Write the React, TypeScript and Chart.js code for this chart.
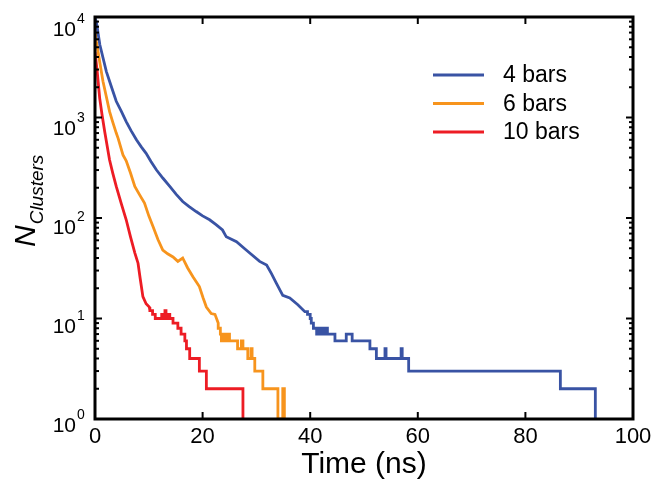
import { useEffect, useRef } from 'react';
import { Chart, registerables } from 'chart.js';

Chart.register(...registerables);

const SERIES_LABELS = ['4 bars', '6 bars', '10 bars'];
const SERIES_COLORS = ['#3953a4', '#f7941d', '#ed1c24'];

// 4 bars: smooth decay part, then integer step tail
const blueHeadT = [0, 0.25, 0.9, 2.1, 3.0, 3.95, 4.9, 5.8, 6.7, 7.7, 8.6, 9.5, 10.4, 11.4, 12.6, 13.9, 15.1, 16.3, 17.5, 18.8, 20.0, 21.3, 22.5, 23.7, 24.4, 26.3, 28.1, 30.6, 31.9, 32.8, 33.7, 34.9, 36.2, 37.7, 39.0];
const blueHeadN = [9800, 9000, 5300, 2880, 2060, 1450, 1150, 910, 740, 600, 510, 440, 365, 302, 250, 206, 172, 146, 130, 116, 105, 96, 86, 76, 65, 58, 48, 37, 34, 28, 22.5, 17, 16, 13.7, 11.7];
const blueTailT = [39.5, 40.0, 40.2, 40.6, 41.2, 41.7, 42.2, 42.7, 43.2, 44.6, 46.7, 47.8, 51.1, 52.3, 53.9, 54.1, 56.9, 57.1, 58.3, 86.5, 93.0];
const blueTailN = [11, 10, 9, 8, 7, 8, 7, 8, 7, 6, 7, 6, 5, 4, 5, 4, 5, 4, 3, 2, 1];

// 6 bars
const orangeHeadT = [0, 0.25, 0.9, 1.48, 2.1, 2.7, 3.3, 3.95, 4.3, 5.2, 5.8, 6.6, 7.4, 8.3, 9.2, 10.0, 10.8, 11.7, 12.6, 13.5, 14.5, 15.4, 16.3, 17.2, 18.2, 19.4, 20.1, 20.7, 21.6, 22.3, 22.9];
const orangeHeadN = [7500, 5750, 3500, 2290, 1620, 1150, 900, 700, 620, 425, 370, 280, 206, 170, 141, 105, 82, 61, 48, 44, 41, 37, 40, 32, 26, 20.8, 16, 13, 11.2, 11, 9];
const orangeTailT = [22.9, 23.3, 23.5, 24.0, 24.3, 24.7, 25.0, 26.5, 27.2, 27.5, 28.4, 29.0, 29.2, 29.7, 31.2, 34.0, 34.9, 35.2];
const orangeTailN = [8, 7, 6, 7, 6, 7, 6, 5, 6, 5, 4, 5, 4, 3, 2, 1, 2, 1];

// 10 bars
const redHeadT = [0, 0.4, 0.87, 1.3, 1.8, 2.7, 3.3, 3.95, 4.9, 5.8, 6.6, 7.4, 8.0, 8.4, 8.9, 9.5, 10.1, 10.2];
const redHeadN = [4500, 2900, 1560, 1070, 725, 380, 280, 206, 138, 96, 65, 45, 35.5, 25, 16.5, 14, 13, 12];
const redTailT = [10.7, 11.2, 12.4, 12.7, 13.0, 13.2, 13.6, 13.9, 14.5, 15.4, 16.0, 16.7, 17.0, 17.6, 19.4, 20.7, 27.5];
const redTailN = [11, 10, 11, 10, 12, 10, 11, 10, 9, 8, 7, 6, 5, 4, 3, 2, 1];

const X_TICKS = [0, 20, 40, 60, 80, 100];
const Y_EXPONENTS = [0, 1, 2, 3, 4];

const FONT = '"Liberation Sans", Arial, Helvetica, sans-serif';

function buildPoints(headT: number[], headN: number[], tailT: number[], tailN: number[]) {
  const pts = headT.map((t, i) => ({ x: t, y: headN[i] }));
  let prev = headN[headN.length - 1];
  tailT.forEach((t, i) => {
    pts.push({ x: t, y: prev });
    pts.push({ x: t, y: tailN[i] });
    prev = tailN[i];
  });
  return pts;
}

const axesPlugin = {
  id: 'customAxes',
  afterDraw(chart: any) {
    const { ctx, chartArea, scales } = chart;
    const { left, right, top, bottom } = chartArea;
    const x = scales.x;
    const y = scales.y;
    ctx.save();
    ctx.strokeStyle = '#000';
    ctx.fillStyle = '#000';
    const seg = (x1: number, y1: number, x2: number, y2: number) => {
      ctx.beginPath();
      ctx.moveTo(x1, y1);
      ctx.lineTo(x2, y2);
      ctx.stroke();
    };
    // ticks
    ctx.lineWidth = 2;
    X_TICKS.forEach((v) => {
      const px = x.getPixelForValue(v);
      seg(px, bottom, px, bottom - 7);
      seg(px, top, px, top + 7);
    });
    Y_EXPONENTS.forEach((e) => {
      for (let m = 1; m <= 9; m++) {
        if (e === 4 && m > 1) break;
        const py = y.getPixelForValue(m * Math.pow(10, e));
        const len = m === 1 ? 7 : 4;
        seg(left, py, left + len, py);
        seg(right, py, right - len, py);
      }
    });
    // frame
    ctx.lineWidth = 3;
    ctx.strokeRect(left, top, right - left, bottom - top);

    // x tick labels
    ctx.font = `22px ${FONT}`;
    ctx.textAlign = 'center';
    ctx.textBaseline = 'alphabetic';
    X_TICKS.forEach((v) => {
      ctx.fillText(String(v), x.getPixelForValue(v), bottom + 24);
    });
    // y tick labels 10^e
    Y_EXPONENTS.forEach((e) => {
      const py = y.getPixelForValue(Math.pow(10, e));
      const base = py + 13 + 1.5 * e;
      ctx.font = `21px ${FONT}`;
      ctx.textAlign = 'right';
      ctx.fillText('10', left - 19, base);
      ctx.font = `14px ${FONT}`;
      ctx.textAlign = 'left';
      ctx.fillText(String(e), left - 18, base - 13);
    });

    // x title
    ctx.font = `30px ${FONT}`;
    ctx.textAlign = 'center';
    ctx.fillText('Time (ns)', (left + right) / 2, bottom + 54);

    // y title N_Clusters (rotated)
    ctx.save();
    ctx.translate(left - 60, top + 230);
    ctx.rotate(-Math.PI / 2);
    ctx.textAlign = 'left';
    ctx.font = `italic 30px ${FONT}`;
    ctx.fillText('N', 0, 0);
    const nW = ctx.measureText('N').width;
    ctx.font = `italic 19px ${FONT}`;
    ctx.fillText('Clusters', nW + 1, 8);
    ctx.restore();

    // legend
    const ds = chart.data.datasets;
    ctx.font = `23px ${FONT}`;
    ctx.textAlign = 'left';
    ctx.textBaseline = 'middle';
    ds.forEach((d: any, i: number) => {
      const ly = top + 58 + i * 28.5;
      ctx.strokeStyle = d.borderColor;
      ctx.lineWidth = 3;
      seg(left + 338, ly, left + 389, ly);
      ctx.fillStyle = '#000';
      ctx.fillText(d.label, left + 408, ly + 1);
    });
    ctx.restore();
  },
};

export default function App() {
  const canvasRef = useRef<HTMLCanvasElement | null>(null);

  useEffect(() => {
    document.body.style.margin = '0';
    const canvas = canvasRef.current;
    if (!canvas) return;
    const seriesData = [
      buildPoints(blueHeadT, blueHeadN, blueTailT, blueTailN),
      buildPoints(orangeHeadT, orangeHeadN, orangeTailT, orangeTailN),
      buildPoints(redHeadT, redHeadN, redTailT, redTailN),
    ];
    const chart = new Chart(canvas, {
      type: 'line',
      data: {
        datasets: seriesData.map((pts, i) => ({
          label: SERIES_LABELS[i],
          data: pts,
          borderColor: SERIES_COLORS[i],
          backgroundColor: SERIES_COLORS[i],
          borderWidth: 2.8,
          pointRadius: 0,
          tension: 0,
          fill: false,
        })),
      },
      options: {
        responsive: false,
        animation: false,
        devicePixelRatio: 1,
        layout: { padding: { left: 95, top: 17, right: 22, bottom: 66 } },
        plugins: { legend: { display: false }, tooltip: { enabled: false } },
        scales: {
          x: { type: 'linear', min: 0, max: 100, display: false },
          y: { type: 'logarithmic', min: 1, max: 10000, display: false },
        },
      },
      plugins: [axesPlugin],
    });
    return () => chart.destroy();
  }, []);

  return (
    <div style={{ position: 'absolute', left: 0, top: 0, width: 655, height: 485, background: '#fff' }}>
      <canvas ref={canvasRef} width={655} height={485} />
    </div>
  );
}
